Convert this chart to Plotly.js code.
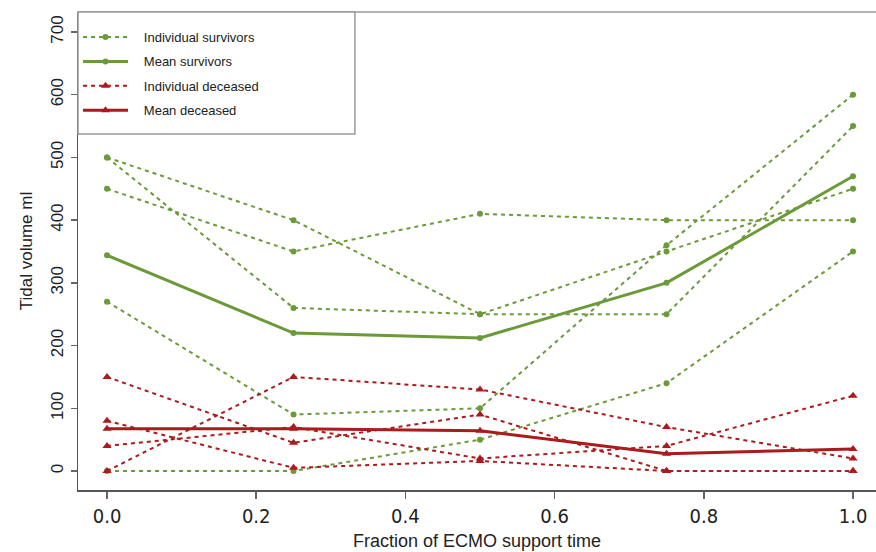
<!DOCTYPE html>
<html>
<head>
<meta charset="utf-8">
<script src="https://cdn.plot.ly/plotly-3.0.1.min.js"></script>
<style>html,body{margin:0;padding:0;background:#fff;}#chart{width:876px;height:552px;}</style>
</head>
<body>
<div id="chart"></div>
<script>
// Fraction of ECMO support time
var xFrac = [0, 0.25, 0.5, 0.75, 1.0];

// Individual survivors (tidal volume ml)
var survivor1 = [500, 400, 250, 350, 450];
var survivor2 = [500, 260, 250, 250, 550];
var survivor3 = [450, 350, 410, 400, 400];
var survivor4 = [270, 90, 100, 360, 600];
var survivor5 = [0, 0, 50, 140, 350];
var meanSurvivors = [344, 220, 212, 300, 470];

// Individual deceased (tidal volume ml)
var deceased1 = [0, 150, 130, 70, 20];
var deceased2 = [150, 45, 90, 0, 0];
var deceased3 = [40, 70, 20, 40, 120];
var deceased4 = [80, 5, 16, 0, 0];
var meanDeceased = [67.5, 67.5, 64, 27.5, 35];

var xTicks = [0, 0.2, 0.4, 0.6, 0.8, 1.0];
var xTickText = ['0.0', '0.2', '0.4', '0.6', '0.8', '1.0'];
var yTicks = [0, 100, 200, 300, 400, 500, 600, 700];

var GREEN = '#6b9a3a';
var RED = '#ab1a1d';
var DOT = '4px,4px';
var PAD = '\u00a0\u00a0\u00a0';

var traces = [];
function indiv(y, color, symbol, size, name, show, group) {
  return {
    x: xFrac, y: y, type: 'scatter', mode: 'lines+markers',
    name: PAD + name, showlegend: show, legendgroup: group,
    line: {color: color, width: 2, dash: DOT},
    marker: {color: color, symbol: symbol, size: size}
  };
}
function mean(y, color, symbol, size, name, group) {
  return {
    x: xFrac, y: y, type: 'scatter', mode: 'lines+markers',
    name: PAD + name, showlegend: true, legendgroup: group,
    line: {color: color, width: 3},
    marker: {color: color, symbol: symbol, size: size}
  };
}
[survivor1, survivor2, survivor3, survivor4, survivor5].forEach(function (s, i) {
  traces.push(indiv(s, GREEN, 'circle', 6, 'Individual survivors', i === 0, 'g1'));
});
traces.push(mean(meanSurvivors, GREEN, 'circle', 6, 'Mean survivors', 'g2'));
[deceased1, deceased2, deceased3, deceased4].forEach(function (s, i) {
  traces.push(indiv(s, RED, 'triangle-up', 8, 'Individual deceased', i === 0, 'g3'));
});
traces.push(mean(meanDeceased, RED, 'triangle-up', 8, 'Mean deceased', 'g4'));

var layout = {
  width: 876, height: 552,
  margin: {l: 78, r: 0, t: 12, b: 62},
  paper_bgcolor: '#fff', plot_bgcolor: '#fff',
  font: {family: 'Liberation Sans, Arial, sans-serif', color: '#111'},
  showlegend: true,
  legend: {
    x: 0, y: 0.979, xanchor: 'left', yanchor: 'top',
    bgcolor: 'rgba(0,0,0,0)', borderwidth: 0,
    font: {size: 13, color: '#222'},
    tracegroupgap: 4.5, itemwidth: 45,
    itemclick: false, itemdoubleclick: false
  },
  xaxis: {
    range: [-0.0389, 1.0308],
    tickvals: xTicks, ticktext: xTickText,
    showgrid: false, zeroline: false,
    showline: true, linecolor: '#555', linewidth: 1.5,
    ticks: 'outside', ticklen: 7, tickcolor: '#666', tickwidth: 1.5,
    tickfont: {family: 'Liberation Sans Narrow, DejaVu Sans Condensed, Arial Narrow, sans-serif', size: 20, color: '#222'},
    title: {text: 'Fraction of ECMO support time', font: {size: 18, color: '#222'}, standoff: 8},
    automargin: false
  },
  yaxis: {
    range: [-30.3, 731.9],
    tickvals: yTicks,
    showgrid: false, zeroline: false,
    showline: true, linecolor: '#555', linewidth: 1.5,
    ticks: 'outside', ticklen: 6, tickcolor: '#666', tickwidth: 1.5,
    tickangle: -90,
    ticklabelstandoff: 1,
    tickfont: {size: 17, color: '#222'},
    title: {text: 'Tidal volume ml', font: {size: 17, color: '#222'}, standoff: 11},
    automargin: false
  },
  shapes: [
    {type: 'line', xref: 'paper', yref: 'paper', x0: 0, x1: 1, y0: 1, y1: 1,
     line: {color: '#999', width: 1.5}},
    {type: 'rect', xref: 'paper', yref: 'paper', x0: 0, x1: 0.347, y0: 0.745, y1: 1,
     line: {color: '#999', width: 1.5}, fillcolor: '#fff', layer: 'above'}
  ]
};

Plotly.newPlot('chart', traces, layout, {staticPlot: true, displayModeBar: false});
</script>
</body>
</html>
